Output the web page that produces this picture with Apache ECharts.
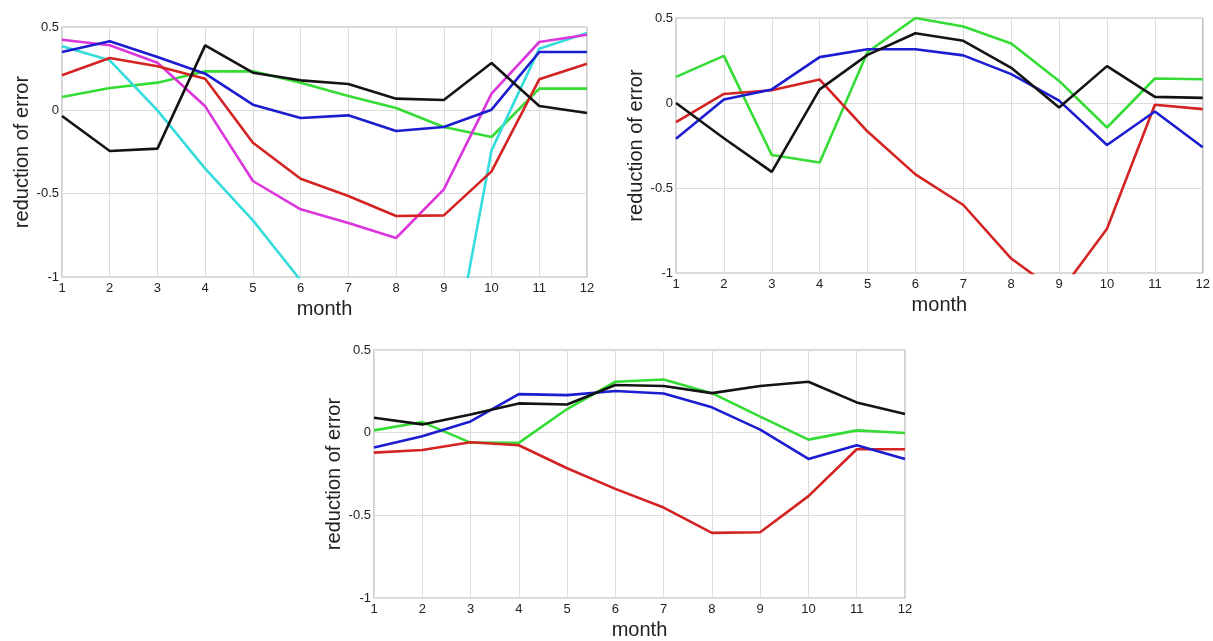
<!DOCTYPE html>
<html>
<head>
<meta charset="utf-8">
<script src="https://cdn.jsdelivr.net/npm/echarts@6/dist/echarts.min.js"></script>
<style>
  html, body { margin: 0; padding: 0; background: #ffffff; }
  #chart { width: 1213px; height: 641px; }
</style>
</head>
<body>
<div id="chart"></div>
<script>
// months on the x axis
var months = [1, 2, 3, 4, 5, 6, 7, 8, 9, 10, 11, 12];
var yTicks = [-1, -0.5, 0, 0.5];

// panel 1 (top left)
var p1Blue    = [0.35, 0.415, 0.32, 0.22, 0.034, -0.046, -0.03, -0.124, -0.1, 0.004, 0.35, 0.35];
var p1Red     = [0.21, 0.314, 0.264, 0.19, -0.194, -0.41, -0.514, -0.634, -0.63, -0.366, 0.186, 0.28];
var p1Green   = [0.08, 0.134, 0.166, 0.234, 0.234, 0.166, 0.086, 0.014, -0.1, -0.16, 0.13, 0.13];
var p1Black   = [-0.034, -0.244, -0.23, 0.39, 0.226, 0.18, 0.158, 0.07, 0.062, 0.284, 0.026, -0.016];
var p1Magenta = [0.424, 0.39, 0.286, 0.024, -0.424, -0.594, -0.676, -0.766, -0.474, 0.1, 0.41, 0.454];
var p1Cyan    = [0.384, 0.3, 0.0, -0.35, -0.66, -1.02, -1.4, -1.7, -1.78, -0.24, 0.37, 0.464];

// panel 2 (top right)
var p2Blue  = [-0.21, 0.02, 0.08, 0.27, 0.316, 0.316, 0.28, 0.17, 0.014, -0.247, -0.05, -0.26];
var p2Red   = [-0.113, 0.053, 0.075, 0.138, -0.168, -0.42, -0.6, -0.915, -1.12, -0.74, -0.01, -0.036];
var p2Green = [0.154, 0.277, -0.306, -0.35, 0.3, 0.5, 0.45, 0.35, 0.13, -0.144, 0.144, 0.14];
var p2Black = [0.0, -0.207, -0.405, 0.08, 0.283, 0.41, 0.366, 0.207, -0.026, 0.217, 0.036, 0.03];

// panel 3 (bottom)
var p3Black = [0.09, 0.05, 0.11, 0.177, 0.17, 0.288, 0.282, 0.239, 0.282, 0.308, 0.183, 0.113];
var p3Green = [0.014, 0.064, -0.06, -0.062, 0.143, 0.308, 0.322, 0.239, 0.097, -0.042, 0.014, -0.002];
var p3Blue  = [-0.09, -0.022, 0.068, 0.233, 0.227, 0.252, 0.237, 0.153, 0.018, -0.159, -0.076, -0.159];
var p3Red   = [-0.121, -0.105, -0.058, -0.076, -0.215, -0.34, -0.453, -0.606, -0.602, -0.384, -0.1, -0.1];

var BLUE = '#1c1cd0', RED = '#d42323', GREEN = '#35dc35', BLACK = '#141414',
    MAGENTA = '#dc35dc', CYAN = '#35dcdc';

var FONT = 'Liberation Sans';

var grids = [
  { left: 62, top: 27, width: 525, height: 250 },
  { left: 676, top: 18, width: 532, height: 255 },
  { left: 374, top: 350, width: 531, height: 253 }
];

function makeX(i) {
  return {
    gridIndex: i, type: 'value', min: 1, max: 12, interval: 1,
    name: 'month', nameLocation: 'middle', nameGap: 22,
    nameTextStyle: { fontFamily: FONT, fontSize: 20, color: '#222' },
    axisLine: { show: false },
    axisTick: { show: false },
    axisLabel: { fontFamily: FONT, fontSize: 13, color: '#222', margin: 5 },
    splitLine: { show: true, lineStyle: { color: '#dcdcdc', width: 1 } }
  };
}

function makeY(i) {
  return {
    gridIndex: i, type: 'value', min: -1, max: 0.5, interval: 0.5,
    name: 'reduction of error', nameLocation: 'middle', nameGap: 30,
    nameTextStyle: { fontFamily: FONT, fontSize: 20, color: '#222' },
    axisLine: { show: false },
    axisTick: { show: false },
    axisLabel: {
      fontFamily: FONT, fontSize: 13, color: '#222', margin: 3,
      formatter: function (v) { return yTicks.indexOf(v) >= 0 ? String(v) : ''; }
    },
    splitLine: { show: true, lineStyle: { color: '#dcdcdc', width: 1 } }
  };
}

function line(i, values, color) {
  return {
    type: 'line', xAxisIndex: i, yAxisIndex: i,
    data: months.map(function (m, k) { return [m, values[k]]; }),
    symbol: 'none', clip: true, silent: true, animation: false,
    lineStyle: { color: color, width: 2.6 }
  };
}

var chart = echarts.init(document.getElementById('chart'));
chart.setOption({
  backgroundColor: '#ffffff',
  animation: false,
  grid: grids.map(function (g) {
    return Object.assign({ show: true, borderColor: '#b4b4b4', borderWidth: 1.2 }, g);
  }),
  xAxis: [makeX(0), makeX(1), makeX(2)],
  yAxis: [makeY(0), makeY(1), makeY(2)],
  series: [
    line(0, p1Green, GREEN),
    line(0, p1Cyan, CYAN),
    line(0, p1Magenta, MAGENTA),
    line(0, p1Red, RED),
    line(0, p1Blue, BLUE),
    line(0, p1Black, BLACK),
    line(1, p2Green, GREEN),
    line(1, p2Red, RED),
    line(1, p2Blue, BLUE),
    line(1, p2Black, BLACK),
    line(2, p3Green, GREEN),
    line(2, p3Red, RED),
    line(2, p3Blue, BLUE),
    line(2, p3Black, BLACK)
  ]
});
</script>
</body>
</html>
